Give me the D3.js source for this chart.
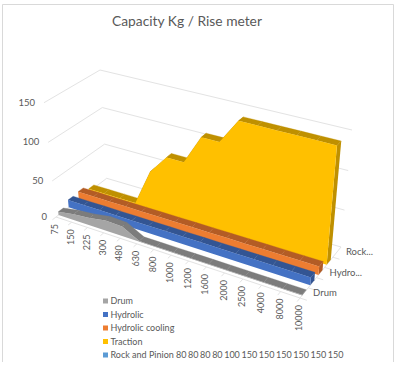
<!DOCTYPE html>
<html>
<head>
<meta charset="utf-8">
<script src="https://cdnjs.cloudflare.com/ajax/libs/d3/7.8.5/d3.min.js"></script>
<style>
    html, body { margin: 0; padding: 0; background: #fff; }
    text { font-family: Lato, "Open Sans", sans-serif; fill: #595959; }
</style>
</head>
<body>
<div id="chart"></div>
<script>
// Data
const categories = ["75", "150", "225", "300", "480", "630", "800", "1000", "1200", "1600", "2000", "2500", "4000", "8000", "10000"];
const seriesNames = ["Drum", "Hydrolic", "Hydrolic cooling", "Traction", "Rock and Pinion"];
const drumValues = [5, 9, 11, 15, 14, 1, 1, 1, 1, 1, 1, 1, 1, 1, 1];
const hydrolicValues = [11, 11, 11, 11, 11, 11, 11, 11, 11, 11, 11, 11, 11, 11, 11];
const coolingValues = [12, 12, 12, 12, 12, 12, 12, 12, 12, 12, 12, 12, 12, 12, 12];
const tractionValues = [5, 5, 5, 5, 55, 80, 80, 118, 118, 150, 150, 150, 150, 150, 150];
const rockValues = [];
const valueTicks = [0, 50, 100, 150];
const depthLabels = ["Drum", "Hydro...", "", "Rock..."];
const legendTail = "80 80 80 80 100 150 150 150 150 150 150";

const faceColors = ["#a5a5a5", "#4472c4", "#ed7d31", "#ffc000", "#5b9bd5"];
const topColors = ["#7c7c7c", "#335593", "#b35c25", "#bf9000", "#44749f"];

const width = 397, height = 379;
const svg = d3.select("#chart").append("svg")
    .attr("width", width)
    .attr("height", height)
    .style("display", "block");

// Corners of the 3D box on screen (f = front, b = back, 0 = left, 1 = right)
const floorBox = { f0: [56, 217], f1: [300, 298], b0: [106.7, 178.3], b1: [341, 247] };
const roofBox = { f0: [44, 102.7], f1: [309, 174], b0: [100, 70], b1: [352, 130] };

const xIndex = d3.scaleLinear().domain([0, categories.length - 1]).range([0, 1]);
const yValue = d3.scalePow().exponent(1.05).domain([0, 150]).range([0, 1]);
const depth = d3.scaleBand().domain(seriesNames).range([0, 1]);

// Slight perspective along the long axis, ticks get wider towards the right
const warp = t => t / (t + (1 - t) * 1.12);

function boxPoint(box, u, v) {
    const front = d3.interpolateArray(box.f0, box.f1)(u);
    const back = d3.interpolateArray(box.b0, box.b1)(u);
    return d3.interpolateArray(front, back)(v);
}

function project(i, v, value) {
    const u = warp(xIndex(i));
    const bottom = boxPoint(floorBox, u, v);
    const top = boxPoint(roofBox, u, v);
    return d3.interpolateArray(bottom, top)(yValue(value));
}

const poly = d3.line();

// Walls
const grid = svg.append("g").attr("fill", "none").attr("stroke", "#e3e3e3");
valueTicks.forEach(t => {
    grid.append("path").attr("d", poly([
        project(0, 0, t), project(0, 1, t), project(categories.length - 1, 1, t)
    ]));
});
grid.append("path").attr("d", poly([
    project(0, 0, 0), project(categories.length - 1, 0, 0), project(categories.length - 1, 1, 0)
]));

// Tick marks on both floor edges
categories.forEach((c, i) => {
    grid.append("path").attr("d", poly([project(i, 0, 0), project(i, -0.07, 0)]));
});
seriesNames.forEach((s, k) => {
    const n = categories.length - 1;
    grid.append("path").attr("d", poly([project(n, k / 5, 0), project(n + 0.35, k / 5, 0)]));
});

// Ribbons, back to front
const ribbons = svg.append("g");
const allValues = [drumValues, hydrolicValues, coolingValues, tractionValues, rockValues];
d3.range(seriesNames.length - 1, -1, -1).forEach(k => {
    const values = allValues[k];
    if (values.length === 0) return;
    const mid = depth(seriesNames[k]) + depth.bandwidth() / 2;
    const front = mid - 0.05;
    const back = mid + 0.05;
    const last = values.length - 1;

    values.slice(1).forEach((val, j) => {
        ribbons.append("path")
            .attr("fill", topColors[k])
            .attr("stroke", topColors[k])
            .attr("stroke-width", 0.3)
            .attr("d", poly([
                project(j, front, values[j]), project(j + 1, front, val),
                project(j + 1, back, val), project(j, back, values[j])
            ]) + "Z");
    });

    ribbons.append("path")
        .attr("fill", topColors[k])
        .attr("d", poly([
            project(last, front, 0), project(last, front, values[last]),
            project(last, back, values[last]), project(last, back, 0)
        ]) + "Z");

    const facePts = values.map((val, i) => project(i, front, val));
    facePts.push(project(last, front, 0), project(0, front, 0));
    ribbons.append("path")
        .attr("fill", faceColors[k])
        .attr("d", poly(facePts) + "Z");
});

// Value axis labels
valueTicks.forEach(t => {
    const p = project(0, 0, t);
    svg.append("text")
        .attr("x", p[0] - 9)
        .attr("y", p[1] + 3)
        .attr("text-anchor", "end")
        .attr("font-size", 9.5)
        .text(t);
});

// Category labels, rotated
categories.forEach((c, i) => {
    const p = project(i, 0, 0);
    svg.append("text")
        .attr("transform", `translate(${p[0] + 2},${p[1] + 7}) rotate(-90)`)
        .attr("text-anchor", "end")
        .attr("font-size", 9)
        .text(c);
});

// Depth labels on the right
depthLabels.forEach((label, k) => {
    if (!label) return;
    const p = project(categories.length - 1, [0.1, 0.5, 0.7, 0.9][k], 0);
    svg.append("text")
        .attr("x", p[0] + 9)
        .attr("y", p[1] + 3)
        .attr("font-size", 9.5)
        .text(label);
});

// Title
svg.append("text")
    .attr("x", 187)
    .attr("y", 26)
    .attr("text-anchor", "middle")
    .attr("font-size", 13.8)
    .text("Capacity Kg / Rise meter");

// Legend
const legendY = d3.scalePoint().domain(seriesNames).range([301, 355]);
seriesNames.forEach((s, k) => {
    const y = legendY(s);
    svg.append("rect")
        .attr("x", 103)
        .attr("y", y - 2.5)
        .attr("width", 5)
        .attr("height", 5)
        .attr("fill", faceColors[k]);
    svg.append("text")
        .attr("x", 110.5)
        .attr("y", y + 3)
        .attr("font-size", 9)
        .text(s);
});
svg.append("text")
    .attr("x", 176)
    .attr("y", legendY(seriesNames[4]) + 3)
    .attr("font-size", 9)
    .attr("word-spacing", -0.7)
    .text(legendTail);

// Chart frame, the crop cuts it off at the bottom
svg.append("path")
    .attr("fill", "none")
    .attr("stroke", "#d9d9d9")
    .attr("d", poly([[2.5, 362], [2.5, 4.5], [393.5, 4.5], [393.5, 362]]));
</script>
</body>
</html>
